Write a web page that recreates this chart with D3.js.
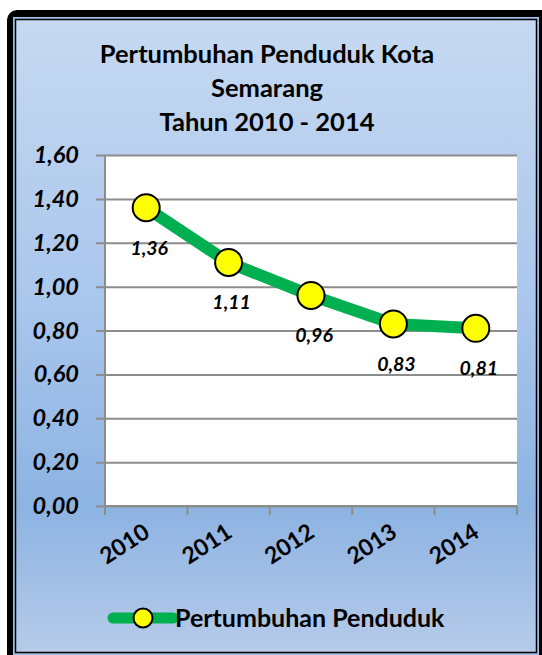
<!DOCTYPE html>
<meta charset="utf-8">
<script src="https://d3js.org/d3.v7.min.js"></script>
<style>
  body { margin: 0; background: #fff; }
  text { font-family: Lato, "Open Sans", sans-serif; font-weight: bold; fill: #000; }
</style>
<svg id="chart" width="542" height="655"></svg>
<script>
  // data
  const years = ["2010", "2011", "2012", "2013", "2014"];
  const growth = [1.36, 1.11, 0.96, 0.83, 0.81];
  const yTicks = [0, 0.2, 0.4, 0.6, 0.8, 1.0, 1.2, 1.4, 1.6];
  const titleLines = ["Pertumbuhan Penduduk Kota", "Semarang", "Tahun 2010 - 2014"];
  const seriesName = "Pertumbuhan Penduduk";

  const svg = d3.select("#chart");
  const idFmt = d3.formatLocale({decimal: ",", thousands: ".", grouping: [3], currency: ["", ""]}).format(".2f");

  // frame + background gradient
  const grad = svg.append("defs").append("linearGradient")
      .attr("id", "bg").attr("x1", 0).attr("y1", 0).attr("x2", 0).attr("y2", 1);
  grad.append("stop").attr("offset", "0%").attr("stop-color", "#c6d9f1");
  grad.append("stop").attr("offset", "45%").attr("stop-color", "#a9c6ec");
  grad.append("stop").attr("offset", "77%").attr("stop-color", "#8db3e2");
  grad.append("stop").attr("offset", "100%").attr("stop-color", "#b6cbe9");

  svg.append("rect").attr("x", 7).attr("y", 10).attr("width", 560).attr("height", 670)
      .attr("rx", 10).attr("fill", "#000");
  svg.append("rect").attr("x", 13).attr("y", 17).attr("width", 526).attr("height", 650)
      .attr("fill", "#9fbde6");
  svg.append("rect").attr("x", 15.5).attr("y", 19.5).attr("width", 521).attr("height", 633)
      .attr("fill", "url(#bg)").attr("stroke", "#000").attr("stroke-width", 1.5);

  // title
  svg.append("g").selectAll("text")
    .data(titleLines)
    .join("text")
      .attr("x", 267)
      .attr("y", (d, i) => 63 + i * 34)
      .attr("text-anchor", "middle")
      .style("font-size", "25.5px")
      .text(d => d);

  // scales
  const plot = {left: 105, right: 517, top: 155, bottom: 506};
  const x = d3.scaleBand().domain(years).range([plot.left, plot.right]).padding(0);
  const y = d3.scaleLinear().domain([0, 1.6]).range([plot.bottom, plot.top]);

  svg.append("rect")
      .attr("x", plot.left).attr("y", plot.top)
      .attr("width", plot.right - plot.left).attr("height", plot.bottom - plot.top)
      .attr("fill", "#fff");

  // gridlines + y axis
  const yAxis = svg.append("g")
      .attr("transform", `translate(${plot.left},0)`)
      .call(d3.axisLeft(y).tickValues(yTicks).tickSize(-(plot.right - plot.left)).tickFormat(""));
  yAxis.selectAll(".tick line").attr("stroke", "#8c8c8c").attr("stroke-width", 2).attr("x1", -9);
  yAxis.select(".domain").remove();
  svg.append("line")
      .attr("x1", plot.left).attr("x2", plot.left).attr("y1", plot.top).attr("y2", plot.bottom)
      .attr("stroke", "#8c8c8c").attr("stroke-width", 2);

  svg.append("g").selectAll("text")
    .data(yTicks)
    .join("text")
      .attr("x", 79)
      .attr("y", d => y(d) + 8)
      .attr("text-anchor", "end")
      .style("font-size", "23.5px")
      .style("font-style", "italic")
      .text(d => idFmt(d));

  // x axis
  const xTickPos = years.map(d => x(d)).concat([x(years[years.length - 1]) + x.bandwidth()]);
  svg.append("line")
      .attr("x1", plot.left).attr("x2", plot.right).attr("y1", plot.bottom).attr("y2", plot.bottom)
      .attr("stroke", "#8c8c8c").attr("stroke-width", 2);
  svg.append("g").selectAll("line")
    .data(xTickPos)
    .join("line")
      .attr("x1", d => d).attr("x2", d => d)
      .attr("y1", plot.bottom).attr("y2", plot.bottom + 9)
      .attr("stroke", "#8c8c8c").attr("stroke-width", 2);

  svg.append("g").selectAll("text")
    .data(years)
    .join("text")
      .attr("transform", d => `translate(${x(d) + x.bandwidth() / 2 + 5},${plot.bottom + 30}) rotate(-33)`)
      .attr("text-anchor", "end")
      .style("font-size", "23px")
      .text(d => d);

  // series
  const pts = years.map((d, i) => ({year: d, v: growth[i]}));
  const line = d3.line().x(d => x(d.year) + x.bandwidth() / 2).y(d => y(d.v));

  svg.append("path")
      .datum(pts)
      .attr("d", line)
      .attr("fill", "none")
      .attr("stroke", "#00b050")
      .attr("stroke-width", 12)
      .attr("stroke-linejoin", "round");

  svg.append("g").selectAll("circle")
    .data(pts)
    .join("circle")
      .attr("cx", d => x(d.year) + x.bandwidth() / 2)
      .attr("cy", d => y(d.v))
      .attr("r", 13.5)
      .attr("fill", "#ffff00")
      .attr("stroke", "#000")
      .attr("stroke-width", 2);

  svg.append("g").selectAll("text")
    .data(pts)
    .join("text")
      .attr("x", d => x(d.year) + x.bandwidth() / 2 + 3)
      .attr("y", d => y(d.v) + 47)
      .attr("text-anchor", "middle")
      .style("font-size", "19.5px")
      .style("font-style", "italic")
      .text(d => idFmt(d.v));

  // legend
  const lg = svg.append("g").attr("transform", "translate(113,618)");
  lg.append("line").attr("x1", 0).attr("x2", 60).attr("y1", 0).attr("y2", 0)
      .attr("stroke", "#00b050").attr("stroke-width", 11).attr("stroke-linecap", "round");
  lg.append("circle").attr("cx", 30).attr("cy", 0).attr("r", 9.5)
      .attr("fill", "#ffff00").attr("stroke", "#000").attr("stroke-width", 2);
  lg.append("text").attr("x", 62).attr("y", 8.5)
      .style("font-size", "25px")
      .text(seriesName);
</script>
